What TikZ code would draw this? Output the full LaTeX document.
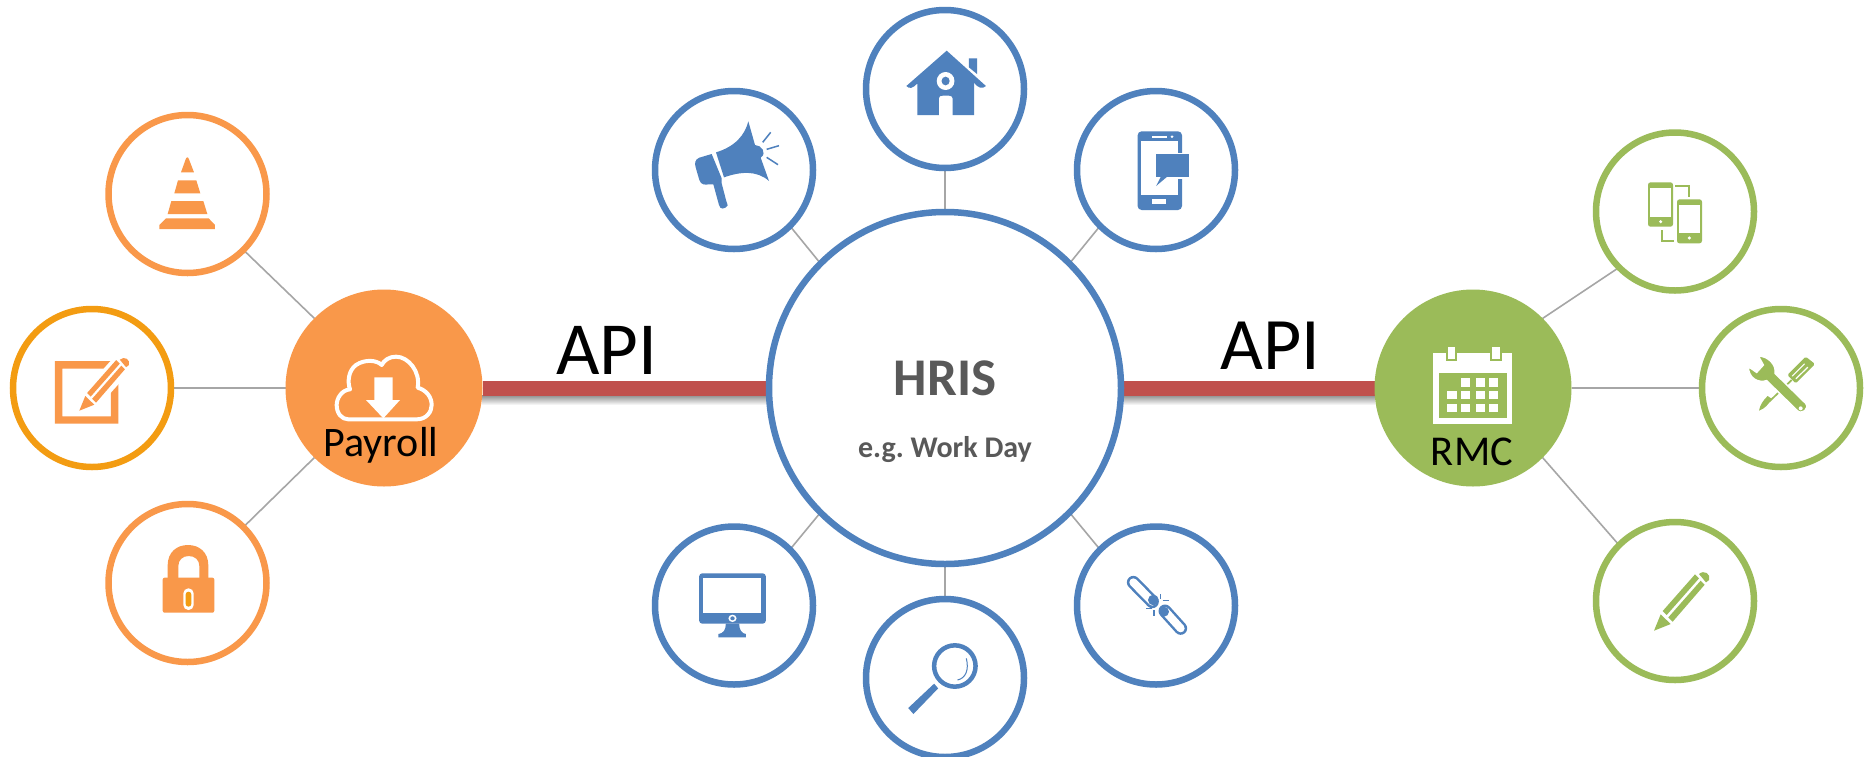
\documentclass[tikz,border=0pt]{standalone}
\usepackage{fontspec}
\setmainfont{Carlito}
\definecolor{hblue}{HTML}{4F81BD}
\definecolor{horange}{HTML}{F9984A}
\definecolor{hamber}{HTML}{F39C12}
\definecolor{hgreen}{HTML}{9BBB59}
\definecolor{hred}{HTML}{C0504D}
\definecolor{hgrey}{HTML}{A6A6A6}
\definecolor{htext}{HTML}{595959}
\tikzset{
  ring/.style={circle,draw=#1,line width=6.5pt,fill=white,minimum size=158pt,inner sep=0pt,outer sep=0pt},
  hub/.style={circle,fill=#1,minimum size=197pt,inner sep=0pt,outer sep=0pt},
  spoke/.style={draw=hgrey,line width=1.6pt},
  redbar/.style={draw=hred,line width=15pt},
  barshadow/.style={top color=black!45,bottom color=white,draw=none},
  zthree/.style 2 args={shift={(#1,#2)},scale=0.33333},
  zwide/.style 2 args={shift={(#1,#2)},xscale=0.36996,yscale=0.33333},
}
\newcommand{\pencilicon}[1]{%
  \fill[#1] (0,0) -- (20,-49) -- (50,-20) -- cycle;
  \fill[#1] (26,-59) -- (123,-169) -- (135,-157) -- (38,-47) -- cycle;
  \fill[#1] (43,-40) -- (56,-27) -- (152,-138) -- (140,-150) -- cycle;
  \fill[#1] (135,-170) .. controls (150,-184) and (172,-170) .. (165,-152) -- (156,-145) -- cycle;
}
\begin{document}
\begin{tikzpicture}[x=1pt,y=-1pt]
\useasboundingbox (0,0) rectangle (1864,756);
\fill[white] (0,0) rectangle (1864,756);

% bar shadows
\shade[barshadow] (482,395) rectangle (767,405);
\shade[barshadow] (1124,395) rectangle (1375,405);

% nodes (declared first so connectors can use them; drawn again on top)
\path
  node[ring=horange,draw=none,fill=none] (cone) at (187.5,194) {}
  node[ring=hamber,draw=none,fill=none] (note) at (92,388) {}
  node[ring=horange,draw=none,fill=none] (lock) at (187.5,583) {}
  node[hub=none,fill=none] (pay) at (384,388) {}
  node[ring=hblue,draw=none,fill=none,minimum size=352pt] (hris) at (945,388) {}
  node[ring=hblue,draw=none,fill=none] (home) at (945,89) {}
  node[ring=hblue,draw=none,fill=none] (mega) at (734,170) {}
  node[ring=hblue,draw=none,fill=none] (phone) at (1156,170) {}
  node[ring=hblue,draw=none,fill=none] (mon) at (734,605.5) {}
  node[ring=hblue,draw=none,fill=none] (glass) at (945,678) {}
  node[ring=hblue,draw=none,fill=none] (link) at (1156,605.5) {}
  node[hub=none,fill=none] (rmc) at (1473,388) {}
  node[ring=hgreen,draw=none,fill=none] (dev) at (1675,211.5) {}
  node[ring=hgreen,draw=none,fill=none] (tool) at (1781,388) {}
  node[ring=hgreen,draw=none,fill=none] (pen) at (1675,601) {};

% connectors
\draw[spoke] (cone.315) -- (pay.135);
\draw[spoke] (note) -- (pay);
\draw[spoke] (lock.45) -- (pay.225);
\draw[spoke] (home) -- (hris);
\draw[spoke] (mega.315) -- (hris.135);
\draw[spoke] (phone.225) -- (hris.45);
\draw[spoke] (mon.45) -- (hris.225);
\draw[spoke] (glass) -- (hris);
\draw[spoke] (link.135) -- (hris.315);
\draw[spoke] (dev.225) -- (rmc.45);
\draw[spoke] (tool) -- (rmc);
\draw[spoke] (pen.135) -- (rmc.315);
\draw[redbar] (pay) -- (hris);
\draw[redbar] (hris) -- (rmc);

% visible circles
\node[ring=horange] at (cone) {};
\node[ring=hamber] at (note) {};
\node[ring=horange] at (lock) {};
\node[hub=horange] at (pay) {};
\node[ring=hblue,minimum size=352pt] at (hris) {};
\node[ring=hblue] at (home) {};
\node[ring=hblue] at (mega) {};
\node[ring=hblue] at (phone) {};
\node[ring=hblue] at (mon) {};
\node[ring=hblue] at (glass) {};
\node[ring=hblue] at (link) {};
\node[hub=hgreen] at (rmc) {};
\node[ring=hgreen] at (dev) {};
\node[ring=hgreen] at (tool) {};
\node[ring=hgreen] at (pen) {};

% labels
\node[anchor=base,font=\fontsize{75}{84}\selectfont] (apil) at (607,374) {API};
\node[anchor=base,font=\fontsize{74}{84}\selectfont] (apir) at (1270,369) {API};
\node[anchor=base,text=htext,font=\fontsize{53}{60}\selectfont\bfseries] (ht) at (945,395) {HRIS};
\node[anchor=base,text=htext,font=\fontsize{30}{36}\selectfont\bfseries] (hs) at (945,457) {e.g.\ Work Day};
\node[anchor=base,font=\fontsize{42}{48}\selectfont] (pl) at (381,456) {Payroll};
\node[anchor=base,font=\fontsize{42.5}{48}\selectfont] (rl) at (1472,465) {RMC};

% cone
\begin{scope}[zthree={0}{100},horange]
\fill (543,217) -- (582,217) -- (567,178) .. controls (564,170) and (560,170) .. (557,178) -- cycle;
\fill (523,280) -- (601,280) -- (589,241) -- (534,241) -- cycle;
\fill (503,342) -- (622,342) -- (610,303) -- (514,303) -- cycle;
\fill (478,375) -- (498,355) -- (626,355) -- (645,375) -- (645,387) -- (478,387) -- cycle;
\fill[even odd rule] (165,783) rectangle (355,971) (187,806) rectangle (333,949);
\end{scope}
% note pencil
\begin{scope}[shift={(79.3,410.7)},scale=0.3]
\fill[white] (-8,12) -- (10,-60) -- (130,-195) -- (190,-155) -- (65,-15) -- cycle;
\pencilicon{horange}
\end{scope}

% lock
\begin{scope}[zthree={130}{530}]
\fill[horange,rounded corners=2pt] (98,143) rectangle (253,248);
\fill[horange,even odd rule] (113,150) -- (113,106) .. controls (113,67) and (140,45) .. (174,45) .. controls (208,45) and (235,67) .. (235,106) -- (235,150) -- (208,150) -- (208,108) .. controls (208,90) and (195,78) .. (176,78) .. controls (158,78) and (145,90) .. (145,108) -- (145,150) -- cycle;
\fill[white,rounded corners=5pt] (160,175) rectangle (191,240);
\fill[hamber,rounded corners=2.8pt] (167,185) rectangle (184,230);
\end{scope}

% cloud
\begin{scope}[zthree={320}{340}]
\draw[white,line width=4pt,line join=round] (85,238) -- (290,238) .. controls (320,238) and (335,215) .. (335,195) .. controls (335,170) and (318,150) .. (293,143) .. controls (302,95) and (265,50) .. (228,50) .. controls (208,50) and (193,60) .. (185,75) .. controls (170,60) and (135,57) .. (108,75) .. controls (85,92) and (82,125) .. (90,148) .. controls (65,150) and (50,175) .. (50,195) .. controls (50,220) and (65,238) .. (85,238) -- cycle;
\fill[white] (163,112) -- (218,112) -- (218,180) -- (240,180) -- (190,235) -- (138,180) -- (163,180) -- cycle;
\end{scope}

% home
\begin{scope}[zwide={640}{0},hblue]
\fill (829,152) -- (935,258) .. controls (925,268) and (915,265) .. (903,248) -- (903,345) -- (845,345) -- (845,295) .. controls (845,289) and (840,287) .. (835,287) -- (818,287) .. controls (812,287) and (808,289) .. (808,295) -- (808,345) -- (750,345) -- (750,250) .. controls (738,265) and (728,268) .. (720,258) -- cycle;
\fill (889,175) -- (911,175) -- (911,222) -- (889,202) -- cycle;
\fill[white] (826,243) ellipse [x radius=24,y radius=27];
\fill (826,243) ellipse [x radius=11,y radius=13];
\end{scope}

% megaphone
\begin{scope}[zthree={640}{90},hblue]
\fill (228,187) .. controls (285,170) and (315,135) .. (325,94) -- (345,165) .. controls (365,165) and (382,190) .. (362,203) -- (387,273) .. controls (350,240) and (300,245) .. (252,262) -- cycle;
\fill (215,192) -- (178,203) .. controls (165,208) and (163,220) .. (167,232) -- (178,270) .. controls (183,285) and (195,285) .. (207,283) -- (220,283) -- (237,345) .. controls (240,360) and (255,358) .. (263,346) -- (258,330) -- (245,280) -- (245,265) -- cycle;
\draw[line width=1.5pt] (368,157) -- (392,127) (380,178) -- (417,167) (380,202) -- (414,224);
\end{scope}

% phone with speech bubble
\begin{scope}[zwide={640}{0},hblue]
\fill[rounded corners=4pt] (1345,394) rectangle (1465,630);
\fill[white] (1355,424) rectangle (1453,585);
\fill[white] (1383,408) rectangle (1425,413);
\fill[white] (1438,410) ellipse [x radius=4,y radius=4];
\fill[white] (1385,598) rectangle (1423,611);
\fill[white] (1388,458) rectangle (1492,538);
\fill (1395,463) rectangle (1485,530);
\fill (1408,530) -- (1395,558) -- (1425,530) -- cycle;
\end{scope}

% monitor
\begin{scope}[zwide={640}{520},hblue]
\fill[rounded corners=3pt] (160,160) rectangle (340,311);
\fill[white] (171,174) rectangle (327,280);
\fill[white] (250,295) ellipse [x radius=11,y radius=11];
\fill (250,295) ellipse [x radius=6,y radius=6];
\fill (232,311) -- (268,311) .. controls (268,330) and (275,340) .. (286,342) -- (286,352) -- (212,352) -- (212,342) .. controls (225,340) and (232,330) .. cycle;
\end{scope}

% magnifier
\begin{scope}[zwide={640}{520},hblue]
\draw[line width=4.5pt] (851,438) ellipse [x radius=56,y radius=62];
\draw[line width=1pt] (882,415) .. controls (890,450) and (880,475) .. (858,480);
\fill (795,491) -- (806,505) -- (739,582) -- (725,564) -- cycle;
\end{scope}

% broken link
\begin{scope}[zthree={1115}{565}]
\draw[hblue,line width=13pt,line cap=round] (55,52) -- (112,110);
\draw[white,line width=8pt,line cap=round] (55,52) -- (112,110);
\draw[hblue,line width=13pt,line cap=round] (150,138) -- (197,190);
\draw[white,line width=8pt,line cap=round] (150,138) -- (197,190);
\fill[hblue] (115,105) circle [radius=16];
\fill[hblue] (147,140) circle [radius=15];
\draw[hblue,line width=1.3pt] (137,88) -- (137,103) (143,107) -- (162,107) (93,130) -- (112,130) (117,135) -- (117,152);
\end{scope}

% calendar
\begin{scope}[zthree={1360}{320}]
\fill[white] (220,100) rectangle (457,313);
\fill[hgreen] (258,100) rectangle (290,122);
\fill[hgreen] (390,100) rectangle (425,122);
\fill[white] (263,80) rectangle (285,116);
\fill[white] (395,80) rectangle (420,116);
\fill[hgreen] (238,160) rectangle (441,295);
\foreach \cx/\cw in {303/28,348/28,388/26}{\fill[white] (\cx,174) rectangle ++(\cw,28);}
\foreach \cx/\cw in {262/28,303/28,348/28,388/26}{
  \fill[white] (\cx,213) rectangle ++(\cw,24);
  \fill[white] (\cx,252) rectangle ++(\cw,23);
}
\end{scope}

% two phones
\begin{scope}[zthree={1360}{120},hgreen]
\fill[rounded corners=2.5pt] (864,187) rectangle (939,320);
\fill[white] (870,203) rectangle (932,290);
\fill[white] (902,305) circle [radius=5];
\fill[rounded corners=2.5pt] (951,238) rectangle (1026,370);
\fill[white] (957,254) rectangle (1020,340);
\fill[white] (988,354) circle [radius=5];
\draw[line width=1.7pt] (945,197) -- (987,197) -- (987,232);
\draw[line width=1.7pt] (907,330) -- (907,362) -- (942,362);
\end{scope}

% tools
\begin{scope}[zthree={1735}{340},hgreen]
\fill[rounded corners=1.5pt] (157,105) -- (212,50) -- (240,72) -- (182,130) -- cycle;
\draw[white,line width=1.2pt,line cap=round] (172,108) -- (208,72);
\draw[white,line width=1.2pt,line cap=round] (183,116) -- (218,82);
\draw[line width=1.7pt] (170,120) -- (95,192);
\fill (108,175) .. controls (100,195) and (90,205) .. (72,212) .. controls (75,195) and (85,180) .. (98,168) -- cycle;
\path[draw=white,line width=1.5pt,fill=hgreen] (70,48) .. controls (100,48) and (125,75) .. (120,100) -- (212,190) .. controls (225,205) and (200,228) .. (185,210) -- (95,122) .. controls (70,130) and (40,115) .. (40,80) -- (65,97) -- (85,75) -- cycle;
\fill[white] (197,205) circle [radius=6];
\end{scope}

% green pencil
\begin{scope}[shift={(1654,630.7)},scale=0.33333]
\pencilicon{hgreen}
\end{scope}
\end{tikzpicture}
\end{document}
